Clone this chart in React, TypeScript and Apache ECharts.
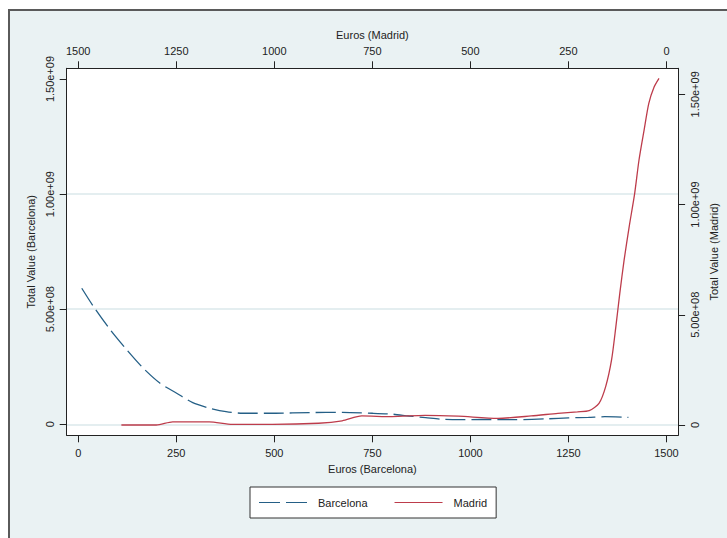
import React, { useEffect, useRef } from "react";
import * as echarts from "echarts";

// Barcelona: euros (bottom axis) vs total value (left axis)
const barcelonaEuros = [9, 38, 81, 123, 165, 208, 250, 292, 335, 377, 419, 504, 589, 674, 750, 801, 843, 886, 928, 970, 1030, 1115, 1199, 1250, 1301, 1343, 1403];
const barcelonaValue = [5.91e8, 5.14e8, 4.12e8, 3.25e8, 2.45e8, 1.79e8, 1.36e8, 0.94e8, 0.70e8, 0.55e8, 0.48e8, 0.48e8, 0.51e8, 0.52e8, 0.48e8, 0.44e8, 0.36e8, 0.29e8, 0.22e8, 0.20e8, 0.21e8, 0.20e8, 0.24e8, 0.28e8, 0.30e8, 0.33e8, 0.30e8];

// Madrid: euros (top axis, reversed) vs total value (right axis)
const madridEuros = [19, 32, 45, 57, 70, 81, 95, 108, 119, 129, 140, 155, 172, 197, 227, 277, 345, 430, 531, 616, 700, 777, 827, 887, 1005, 1107, 1166, 1259, 1301, 1390];
const madridValue = [15.72e8, 15.31e8, 14.59e8, 13.38e8, 12.02e8, 10.51e8, 9.0e8, 7.48e8, 5.97e8, 4.46e8, 2.95e8, 1.74e8, 0.98e8, 0.65e8, 0.60e8, 0.53e8, 0.41e8, 0.30e8, 0.40e8, 0.44e8, 0.38e8, 0.41e8, 0.19e8, 0.08e8, 0.03e8, 0.03e8, 0.14e8, 0.14e8, 0.0, 0.0];

const xTicks = [0, 250, 500, 750, 1000, 1250, 1500];
const xTickLabels = ["0", "250", "500", "750", "1000", "1250", "1500"];
const yTicks = [0, 5e8, 1e9, 1.5e9];
const yTickLabels = ["0", "5.00e+08", "1.00e+09", "1.50e+09"];
const gridValues = [0, 5e8, 1e9];

const FONT = "Liberation Sans, Arial, sans-serif";
const TXT = "#222";
const AX = "#222";
const BLUE = "#245f86";
const RED = "#bd3c4b";

const xFormatter = (v: number) => {
  const i = xTicks.indexOf(v);
  return i >= 0 ? xTickLabels[i] : "";
};
const yFormatter = (v: number) => {
  const i = yTicks.indexOf(v);
  return i >= 0 ? yTickLabels[i] : "";
};

export default function App() {
  const ref = useRef<HTMLDivElement>(null);
  useEffect(() => {
    if (!ref.current) return;
    const chart = echarts.init(ref.current, undefined, { renderer: "svg" });
    const labelStyle = { color: TXT, fontSize: 11, fontFamily: FONT };
    const xCommon = (name: string, pos: "top" | "bottom", inverse: boolean, min: number, max: number) => ({
      type: "value",
      position: pos,
      inverse,
      min,
      max,
      name,
      nameLocation: "middle",
      nameGap: pos === "bottom" ? 28 : 25,
      nameTextStyle: labelStyle,
      axisLine: { show: true, onZero: false, lineStyle: { color: AX, width: 1 } },
      axisTick: { show: true, length: 7, customValues: xTicks, lineStyle: { color: AX, width: 1 } },
      axisLabel: { ...labelStyle, customValues: xTicks, margin: 12, formatter: xFormatter },
      splitLine: { show: false },
    });
    const yCommon = (name: string, pos: "left" | "right", min: number, max: number) => ({
      type: "value",
      position: pos,
      min,
      max,
      name,
      nameLocation: "middle",
      nameRotate: 90,
      nameGap: pos === "left" ? 30 : 23,
      nameTextStyle: labelStyle,
      axisLine: { show: true, onZero: false, lineStyle: { color: AX, width: 1 } },
      axisTick: { show: true, length: 7, customValues: yTicks, lineStyle: { color: AX, width: 1 } },
      axisLabel: { ...labelStyle, customValues: yTicks, rotate: 90, margin: 11, formatter: yFormatter },
      splitLine: { show: false },
    });
    chart.setOption({
      animation: false,
      backgroundColor: "transparent",
      grid: { left: 66.7, right: 46, top: 68.3, bottom: 102.7, containLabel: false, show: true, backgroundColor: "#ffffff", borderWidth: 0 },
      legend: {
        left: 250,
        top: 487,
        orient: "horizontal",
        backgroundColor: "#ffffff",
        borderColor: "#333",
        borderWidth: 1,
        borderRadius: 0,
        padding: [10, 9, 10, 9],
        itemWidth: 48,
        itemHeight: 1.5,
        itemGap: 27,
        textStyle: { ...labelStyle, padding: [0, 0, 0, 6] },
        data: [
          { name: "Barcelona", icon: "path://M0,0H21V1H0ZM27,0H48V1H27Z" },
          { name: "Madrid", icon: "path://M0,0H48V1H0Z" },
        ],
      },
      xAxis: [
        xCommon("Euros (Barcelona)", "bottom", false, -29.4, 1529.7),
        xCommon("Euros (Madrid)", "top", true, -29.7, 1529.4),
      ],
      yAxis: [
        yCommon("Total Value (Barcelona)", "left", -4.78e7, 1.5465e9),
        yCommon("Total Value (Madrid)", "right", -4.67e7, 1.618e9),
        {
          type: "value",
          position: "left",
          min: -4.78e7,
          max: 1.5465e9,
          axisLine: { show: false },
          axisTick: { show: false, customValues: gridValues },
          axisLabel: { show: false, customValues: gridValues },
          splitLine: { show: true, lineStyle: { color: "#e4eef0", width: 2 } },
        },
      ],
      series: [
        {
          name: "Barcelona",
          type: "line",
          xAxisIndex: 0,
          yAxisIndex: 0,
          symbol: "none",
          smooth: 0.25,
          z: 3,
          lineStyle: { color: BLUE, width: 1.3, type: [20, 6] },
          itemStyle: { color: BLUE },
          data: barcelonaEuros.map((x, i) => [x, barcelonaValue[i]]),
        },
        {
          name: "Madrid",
          type: "line",
          xAxisIndex: 1,
          yAxisIndex: 1,
          symbol: "none",
          smooth: 0.25,
          z: 3,
          lineStyle: { color: RED, width: 1.3 },
          itemStyle: { color: RED },
          data: madridEuros.map((x, i) => [x, madridValue[i]]),
        },
      ],
    });
    return () => chart.dispose();
  }, []);

  return (
    <div style={{ position: "fixed", left: 0, top: 0, width: 727, height: 538, background: "#ffffff", overflow: "hidden" }}>
      <div
        style={{
          position: "absolute",
          left: 7.5,
          top: 9,
          width: 740,
          height: 540,
          background: "#eaf2f3",
          borderLeft: "2px solid #5a5a5a",
          borderTop: "2px solid #5a5a5a",
        }}
      />
      <div ref={ref} style={{ position: "absolute", left: 0, top: 0, width: 727, height: 538 }} />
    </div>
  );
}
